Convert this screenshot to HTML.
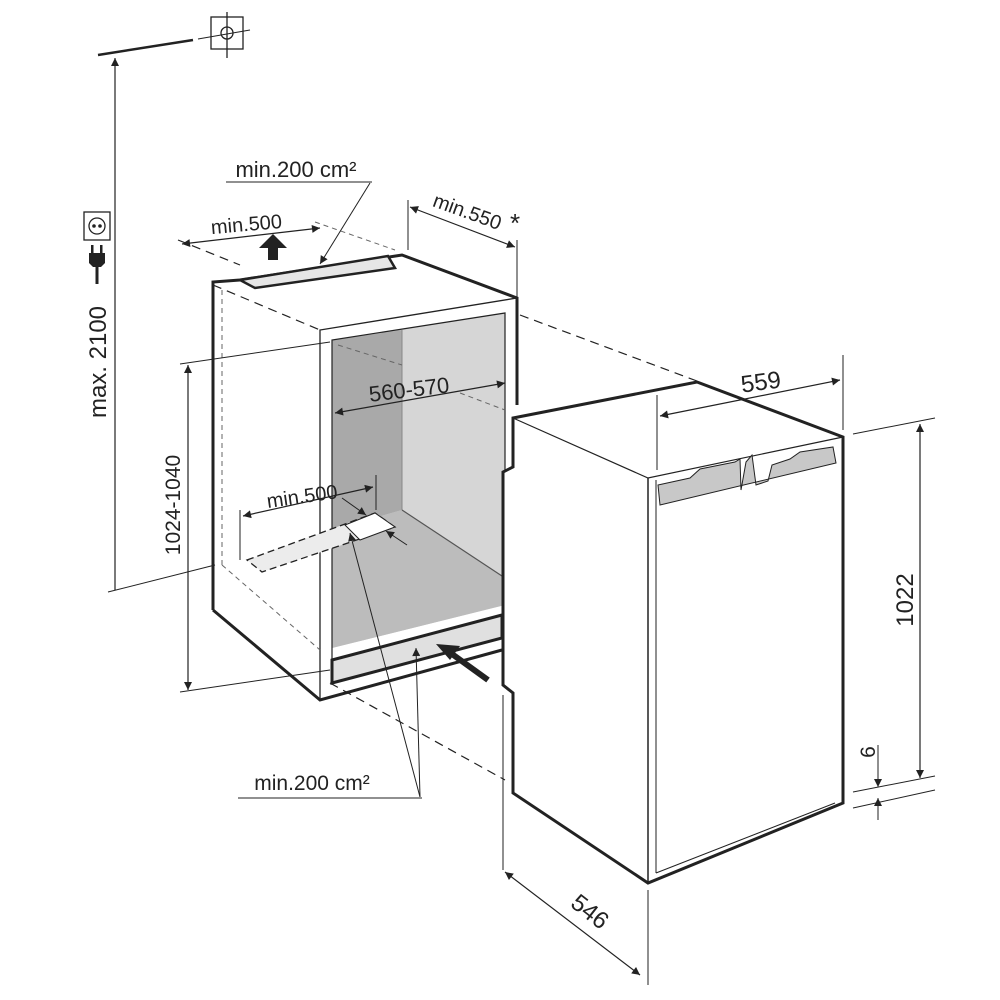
<!DOCTYPE html>
<html><head><style>html,body{margin:0;padding:0;background:#fff}svg{display:block}</style></head>
<body>
<svg width="1000" height="1000" viewBox="0 0 1000 1000" xmlns="http://www.w3.org/2000/svg" font-family="Liberation Sans, sans-serif" fill="none" stroke="#222">
<defs>
<marker id="a" viewBox="0 0 10 10" refX="10" refY="5" markerWidth="13" markerHeight="8" orient="auto-start-reverse" markerUnits="userSpaceOnUse"><path d="M0,0 L10,5 L0,10 z" fill="#222" stroke="none"/></marker>
</defs>
<!-- top symbols -->
<line x1="98" y1="55" x2="193" y2="40" stroke-width="2.5"/>
<line x1="198" y1="39" x2="250" y2="30" stroke-width="1"/>
<rect x="211" y="17" width="32" height="32" stroke-width="1.3"/>
<circle cx="227" cy="33" r="6" stroke-width="1.3"/>
<line x1="227" y1="12" x2="227" y2="58" stroke-width="1.3"/>
<!-- max 2100 -->
<line x1="115" y1="58" x2="115" y2="590" stroke-width="1.2" marker-start="url(#a)"/>
<line x1="108" y1="592" x2="215" y2="565" stroke-width="1"/>
<text x="106" y="362" font-size="24" fill="#222" stroke="none" transform="rotate(-90 106 362)" text-anchor="middle">max. 2100</text>
<rect x="84" y="212" width="26" height="28" stroke-width="1.3"/>
<circle cx="97" cy="226" r="8" stroke-width="1.3"/>
<circle cx="94" cy="226" r="1.3" fill="#222"/><circle cx="100" cy="226" r="1.3" fill="#222"/>
<path d="M89,253 h16 v10 l-4,4 h-8 l-4,-4z" fill="#222" stroke="none"/>
<rect x="91" y="245" width="2.5" height="8" fill="#222" stroke="none"/><rect x="100" y="245" width="2.5" height="8" fill="#222" stroke="none"/>
<line x1="97" y1="266" x2="97" y2="284" stroke-width="3"/>

<!-- niche grey interior -->
<polygon points="332,340 505,313 505,605 332,648" fill="#d6d6d6" stroke="none"/>
<polygon points="332,340 402,330 402,510 332,530" fill="#a9a9a9" stroke="none"/>
<polygon points="332,530 402,510 505,578 505,605 332,648" fill="#bcbcbc" stroke="none"/>
<line x1="402" y1="330" x2="402" y2="510" stroke="#888" stroke-width="1"/>
<line x1="402" y1="510" x2="505" y2="578" stroke="#555" stroke-width="1.2"/>
<!-- niche outline -->
<path d="M213,610 L213,282 L240,280 L402,255 L517,298 L517,405" stroke-width="3"/>
<path d="M213,610 L320,700 L502,650" stroke-width="3"/>
<path d="M320,700 L320,330 L517,298" stroke-width="1.3"/>
<path d="M332,660 L332,340 L505,313 L505,612" stroke-width="1.2"/>
<!-- top vent -->
<polygon points="240,280 255,288 395,268 388,256" fill="#e6e6e6" stroke-width="2.5"/>
<path d="M268,260 v-12 h-9 l14,-14 l14,14 h-9 v12z" fill="#222" stroke="none"/>
<!-- bottom vent -->
<polygon points="332,660 502,615 502,638 332,683" fill="#e0e0e0" stroke-width="3"/>
<path d="M488,680 L452,654" stroke-width="6"/>
<path d="M436,644 L460,646 L450,660z" fill="#222" stroke="none"/>
<!-- floor vent dashed -->
<polygon points="247,560 375,513 395,527 262,572" fill="#ececec" stroke-width="1.3" stroke-dasharray="7,4"/>
<polygon points="345,525 375,513 395,527 360,540" fill="#fff" stroke-width="1"/>
<!-- dashed hidden lines -->
<g stroke-dasharray="9,6" stroke-width="1.2">
<line x1="213" y1="285" x2="320" y2="330"/>
<line x1="520" y1="315" x2="697" y2="381"/>
<line x1="330" y1="683" x2="505" y2="780"/>
<line x1="178" y1="240" x2="240" y2="265"/>
</g>
<g stroke-dasharray="5,4" stroke-width="1" stroke="#666">
<line x1="222" y1="290" x2="222" y2="565"/>
<line x1="222" y1="565" x2="320" y2="650"/>
<line x1="338" y1="345" x2="402" y2="365"/>
<line x1="460" y1="393" x2="505" y2="410"/>
<line x1="315" y1="222" x2="395" y2="250"/>
</g>
<!-- fridge -->
<path d="M513,418 L697,382 L843,437 L843,803 L648,883 L513,793 L513,693 L503,685 L503,472 L513,467 Z" fill="#fff" stroke-width="3"/>
<path d="M513,418 L648,478 L843,437" stroke-width="1.2"/>
<line x1="648" y1="478" x2="648" y2="883" stroke-width="1.5"/>
<line x1="656" y1="480" x2="656" y2="873" stroke-width="1"/>
<path d="M656,873 L835,803" stroke-width="1"/>
<path d="M658,485 L690,478 L700,469 L735,462 L740,459 L741,490 L746,462 L752,455 L756,485 L768,481 L772,465 L790,459 L800,452 L833,447 L836,463 L660,505 Z" fill="#c8c8c8" stroke-width="1"/>
<!-- dims fridge -->
<line x1="657" y1="395" x2="657" y2="470" stroke-width="1"/>
<line x1="843" y1="355" x2="843" y2="430" stroke-width="1"/>
<line x1="660" y1="416" x2="840" y2="380" stroke-width="1.2" marker-start="url(#a)" marker-end="url(#a)"/>
<text x="762" y="390" font-size="24" fill="#222" stroke="none" text-anchor="middle" transform="rotate(-8 762 390)">559</text>
<line x1="853" y1="434" x2="935" y2="418" stroke-width="1"/>
<line x1="853" y1="792" x2="935" y2="776" stroke-width="1"/>
<line x1="920" y1="424" x2="920" y2="778" stroke-width="1.2" marker-start="url(#a)" marker-end="url(#a)"/>
<text x="913" y="600" font-size="24" fill="#222" stroke="none" text-anchor="middle" transform="rotate(-90 913 600)">1022</text>
<line x1="853" y1="808" x2="935" y2="790" stroke-width="1"/>
<line x1="878" y1="745" x2="878" y2="787" stroke-width="1" marker-end="url(#a)"/>
<line x1="878" y1="820" x2="878" y2="798" stroke-width="1" marker-end="url(#a)"/>
<text x="875" y="752" font-size="21" fill="#222" stroke="none" text-anchor="middle" transform="rotate(-90 875 752)">6</text>
<line x1="503" y1="695" x2="503" y2="870" stroke-width="1"/>
<line x1="648" y1="890" x2="648" y2="985" stroke-width="1"/>
<line x1="505" y1="872" x2="640" y2="975" stroke-width="1.2" marker-start="url(#a)" marker-end="url(#a)"/>
<text x="585" y="918" font-size="24" fill="#222" stroke="none" text-anchor="middle" transform="rotate(38 585 918)">546</text>
<!-- 1024-1040 -->
<line x1="180" y1="364" x2="330" y2="342" stroke-width="1"/>
<line x1="180" y1="692" x2="330" y2="670" stroke-width="1"/>
<line x1="188" y1="365" x2="188" y2="690" stroke-width="1.2" marker-start="url(#a)" marker-end="url(#a)"/>
<text x="180" y="505" font-size="21" fill="#222" stroke="none" text-anchor="middle" transform="rotate(-90 180 505)">1024-1040</text>
<!-- 560-570 -->
<line x1="335" y1="413" x2="505" y2="383" stroke-width="1.2" marker-start="url(#a)" marker-end="url(#a)"/>
<text x="410" y="397" font-size="22" fill="#222" stroke="none" text-anchor="middle" transform="rotate(-7 410 397)">560-570</text>
<!-- min.500 inner -->
<line x1="240" y1="510" x2="240" y2="560" stroke-width="1"/>
<line x1="376" y1="475" x2="376" y2="510" stroke-width="1"/>
<line x1="243" y1="516" x2="373" y2="487" stroke-width="1.2" marker-start="url(#a)" marker-end="url(#a)"/>
<text x="303" y="503" font-size="20" fill="#222" stroke="none" text-anchor="middle" transform="rotate(-8 303 503)">min.500</text>
<line x1="342" y1="498" x2="366" y2="515" stroke-width="1" marker-end="url(#a)"/>
<line x1="407" y1="545" x2="386" y2="531" stroke-width="1" marker-end="url(#a)"/>
<!-- min.200 bottom -->
<text x="312" y="790" font-size="21" fill="#222" stroke="none" text-anchor="middle">min.200 cm²</text>
<line x1="238" y1="798" x2="422" y2="798" stroke-width="1"/>
<line x1="420" y1="797" x2="350" y2="533" stroke-width="1" marker-end="url(#a)"/>
<line x1="420" y1="797" x2="416" y2="648" stroke-width="1" marker-end="url(#a)"/>
<!-- top dims -->
<line x1="182" y1="244" x2="320" y2="228" stroke-width="1.2" marker-start="url(#a)" marker-end="url(#a)"/>
<text x="247" y="231" font-size="20" fill="#222" stroke="none" text-anchor="middle" transform="rotate(-5 247 231)">min.500</text>
<text x="296" y="177" font-size="22" fill="#222" stroke="none" text-anchor="middle">min.200 cm²</text>
<line x1="226" y1="182" x2="372" y2="182" stroke-width="1"/>
<line x1="370" y1="183" x2="320" y2="264" stroke-width="1" marker-end="url(#a)"/>
<line x1="408" y1="200" x2="408" y2="250" stroke-width="1"/>
<line x1="517" y1="240" x2="517" y2="298" stroke-width="1"/>
<line x1="410" y1="207" x2="515" y2="247" stroke-width="1.2" marker-start="url(#a)" marker-end="url(#a)"/>
<text x="465" y="218" font-size="20" fill="#222" stroke="none" text-anchor="middle" transform="rotate(20 465 218)">min.550</text>
<text x="510" y="232" font-size="26" fill="#222" stroke="none">*</text>
</svg>
</body></html>
